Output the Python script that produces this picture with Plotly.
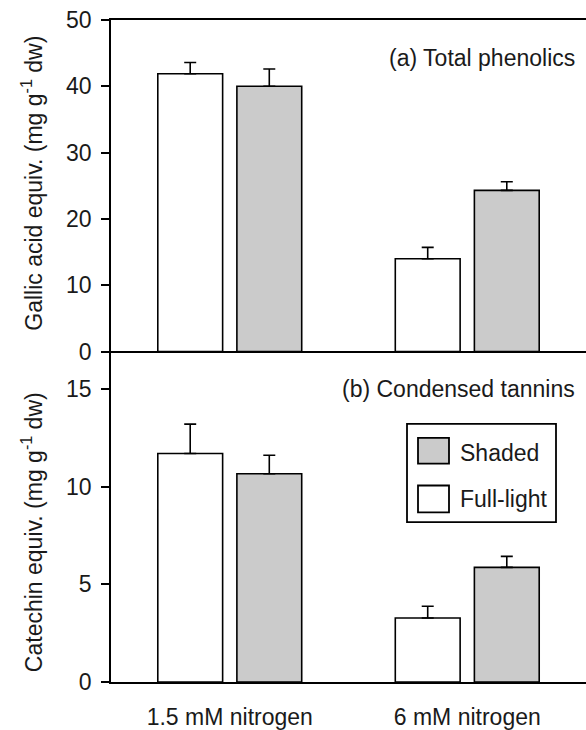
import plotly.graph_objects as go

# ---- data ----
groups = ["1.5 mM nitrogen", "6 mM nitrogen"]
phenolics_full = [41.9, 14.0]
phenolics_full_err = [1.7, 1.7]
phenolics_shaded = [40.0, 24.3]
phenolics_shaded_err = [2.6, 1.3]
tannins_full = [11.7, 3.28]
tannins_full_err = [1.5, 0.6]
tannins_shaded = [10.66, 5.87]
tannins_shaded_err = [0.95, 0.56]

GRAY = "#cbcbcb"
FONT = "Liberation Sans, Arial, sans-serif"
FS = 23
TXT = "#1a1a1a"

W, H = 586, 730
ML, MR, MT, MB = 111, 0, 20, 43
PW, PH = W - ML - MR, H - MT - MB


def px(x):
    return (x - ML) / PW


def py(y):
    return (H - MB - y) / PH


split = py(354)

fig = go.Figure()


def add_bars(vals, errs, color, offset, xa, ya, name):
    fig.add_trace(go.Bar(
        x=groups, y=vals, name=name,
        width=0.273, offset=offset,
        marker=dict(color=color, line=dict(color="black", width=1.6)),
        error_y=dict(type="data", array=errs, arrayminus=[0] * len(errs),
                     symmetric=False, color="black", thickness=1.6, width=6),
        xaxis=xa, yaxis=ya, showlegend=False,
    ))


add_bars(phenolics_full, phenolics_full_err, "white", -0.303, "x2", "y2", "Full-light")
add_bars(phenolics_shaded, phenolics_shaded_err, GRAY, 0.030, "x2", "y2", "Shaded")
add_bars(tannins_full, tannins_full_err, "white", -0.303, "x", "y", "Full-light")
add_bars(tannins_shaded, tannins_shaded_err, GRAY, 0.030, "x", "y", "Shaded")

axis_common = dict(showgrid=False, zeroline=False, showline=True,
                   linecolor="black", linewidth=1.8,
                   tickfont=dict(family=FONT, size=FS, color=TXT))

fig.update_layout(
    width=W, height=H,
    margin=dict(l=ML, r=MR, t=MT, b=MB),
    paper_bgcolor="white", plot_bgcolor="white",
    barmode="overlay",
    font=dict(family=FONT, size=FS, color=TXT),
    xaxis=dict(**axis_common, anchor="y", domain=[0, 1],
               range=[-0.5, 1.5], ticks="", ticklabelstandoff=13),
    yaxis=dict(**axis_common, anchor="x", domain=[0, split],
               range=[0, 16.92], tickvals=[0, 5, 10, 15],
               ticks="outside", ticklen=8, tickwidth=1.6, tickcolor="black",
               ticklabelstandoff=5),
    xaxis2=dict(**axis_common, anchor="y2", domain=[0, 1], matches="x",
                range=[-0.5, 1.5], ticks="", showticklabels=False, mirror=True),
    yaxis2=dict(**axis_common, anchor="x2", domain=[split, 1],
                range=[0, 50], tickvals=[0, 10, 20, 30, 40, 50],
                ticks="outside", ticklen=8, tickwidth=1.6, tickcolor="black",
                ticklabelstandoff=5),
)

ann = []
ann.append(dict(text="Gallic acid equiv. (mg g<sup>-1</sup> dw)", x=px(32), y=py(185),
                xref="paper", yref="paper", textangle=-90, showarrow=False,
                xanchor="center", yanchor="middle", font=dict(size=FS)))
ann.append(dict(text="Catechin equiv. (mg g<sup>-1</sup> dw)", x=px(32), y=py(536),
                xref="paper", yref="paper", textangle=-90, showarrow=False,
                xanchor="center", yanchor="middle", font=dict(size=FS)))
ann.append(dict(text="(a) Total phenolics", x=px(577), y=py(58), xref="paper", yref="paper",
                xanchor="right", yanchor="middle", showarrow=False, font=dict(size=FS)))
ann.append(dict(text="(b) Condensed tannins", x=px(577), y=py(392), xref="paper", yref="paper",
                xanchor="right", yanchor="middle", showarrow=False, font=dict(size=FS)))
ann.append(dict(text="Shaded", x=px(458), y=py(456), xref="paper", yref="paper",
                xanchor="left", yanchor="middle", showarrow=False, font=dict(size=FS)))
ann.append(dict(text="Full-light", x=px(458), y=py(503), xref="paper", yref="paper",
                xanchor="left", yanchor="middle", showarrow=False, font=dict(size=FS)))
fig.update_layout(annotations=ann)

shapes = [
    dict(type="rect", xref="paper", yref="paper", x0=px(407), x1=px(556), y0=py(427), y1=py(526),
         line=dict(color="black", width=1.8), fillcolor="rgba(0,0,0,0)"),
    dict(type="rect", xref="paper", yref="paper", x0=px(418), x1=px(449), y0=py(441), y1=py(467),
         line=dict(color="black", width=1.8), fillcolor=GRAY),
    dict(type="rect", xref="paper", yref="paper", x0=px(418), x1=px(449), y0=py(489), y1=py(516),
         line=dict(color="black", width=1.8), fillcolor="white"),
]
fig.update_layout(shapes=shapes)

fig.write_html("out.html")
